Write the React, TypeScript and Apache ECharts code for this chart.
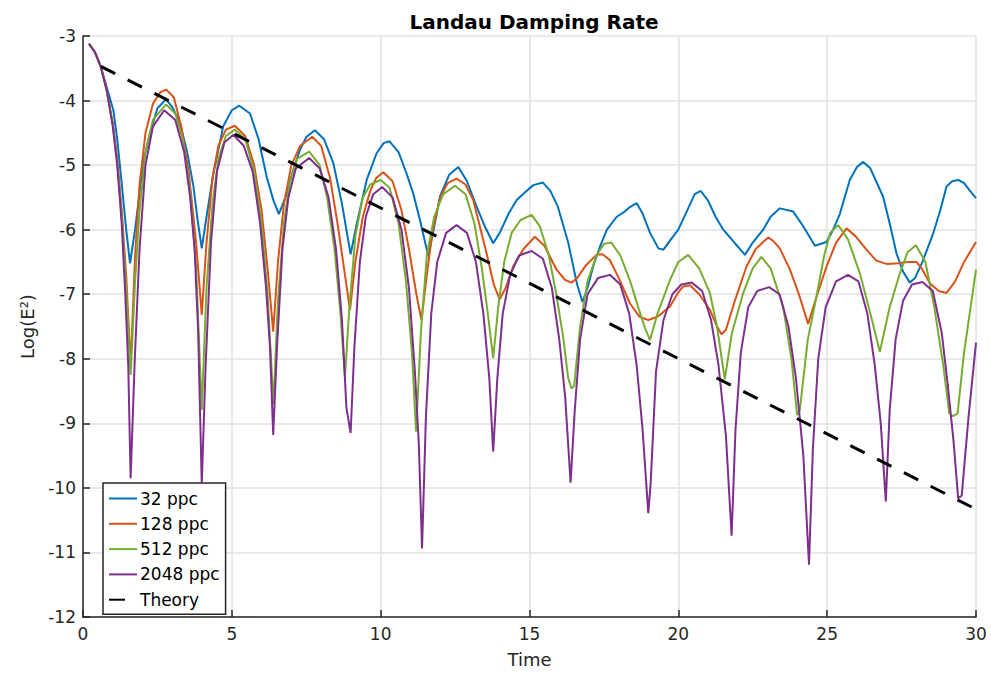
import React, { useEffect, useRef } from "react";
import * as echarts from "echarts";

const seriesNames = ["32 ppc", "128 ppc", "512 ppc", "2048 ppc", "Theory"];
const seriesColors = ["#0072BD", "#D95319", "#77AC30", "#7E2F8E", "#000000"];

const ppc32: number[][] = [
  [0.2, -3.12], [0.4, -3.25], [0.6, -3.48], [0.8, -3.8], [1.02, -4.15], [1.15, -4.6], [1.3, -5.28], [1.45, -6.0], [1.58, -6.52],
  [1.75, -6.0], [1.91, -5.39], [2.05, -4.9], [2.25, -4.51], [2.5, -4.12], [2.79, -3.98], [3.0, -4.1], [3.26, -4.35], [3.5, -4.8],
  [3.71, -5.33], [3.85, -5.85], [3.99, -6.29], [4.15, -5.8], [4.38, -5.13], [4.71, -4.4], [5.0, -4.15], [5.25, -4.08], [5.61, -4.2],
  [5.9, -4.6], [6.17, -5.18], [6.4, -5.55], [6.58, -5.76], [6.8, -5.5], [7.06, -5.08], [7.3, -4.75], [7.51, -4.56], [7.79, -4.46],
  [8.1, -4.6], [8.41, -4.97], [8.7, -5.6], [8.99, -6.38], [9.2, -5.9], [9.53, -5.23], [9.86, -4.82], [10.1, -4.66], [10.29, -4.63],
  [10.6, -4.8], [10.87, -5.13], [11.1, -5.45], [11.32, -5.85], [11.6, -6.41], [11.8, -5.95], [11.99, -5.49], [12.3, -5.15],
  [12.61, -5.03], [12.9, -5.25], [13.22, -5.64], [13.5, -5.95], [13.78, -6.21], [14.0, -6.05], [14.3, -5.75], [14.57, -5.54],
  [14.85, -5.42], [15.13, -5.31], [15.45, -5.27], [15.7, -5.4], [15.95, -5.64], [16.3, -6.2], [16.6, -6.85], [16.78, -7.12],
  [16.95, -6.9], [17.15, -6.55], [17.37, -6.26], [17.6, -6.0], [17.93, -5.8], [18.2, -5.72], [18.37, -5.65], [18.6, -5.59],
  [18.8, -5.75], [19.05, -6.05], [19.33, -6.29], [19.5, -6.31], [19.75, -6.15], [20.0, -6.0], [20.3, -5.7], [20.55, -5.45],
  [20.75, -5.4], [21.0, -5.55], [21.25, -5.8], [21.51, -6.0], [21.9, -6.21], [22.24, -6.39], [22.5, -6.2], [22.85, -6.0],
  [23.1, -5.8], [23.41, -5.67], [23.86, -5.72], [24.2, -5.95], [24.59, -6.25], [24.98, -6.19], [25.2, -6.0], [25.43, -5.75],
  [25.76, -5.23], [26.0, -5.03], [26.21, -4.95], [26.45, -5.05], [26.88, -5.49], [27.1, -5.9], [27.33, -6.37], [27.55, -6.65],
  [27.78, -6.82], [27.95, -6.75], [28.2, -6.5], [28.56, -6.06], [28.8, -5.7], [29.01, -5.33], [29.2, -5.25], [29.4, -5.23],
  [29.6, -5.28], [29.8, -5.4], [30.0, -5.51],
];

const ppc128: number[][] = [
  [0.2, -3.12], [0.4, -3.25], [0.6, -3.48], [0.8, -3.85], [1.0, -4.35], [1.15, -4.9], [1.3, -5.7], [1.45, -6.7], [1.6, -8.1],
  [1.75, -6.4], [1.9, -5.3], [2.1, -4.5], [2.35, -4.05], [2.6, -3.87], [2.79, -3.83], [3.05, -3.95], [3.3, -4.4], [3.55, -5.1],
  [3.8, -6.2], [3.99, -7.32], [4.15, -6.2], [4.35, -5.2], [4.55, -4.7], [4.8, -4.45], [5.1, -4.39], [5.45, -4.55], [5.75, -5.0],
  [6.0, -5.7], [6.2, -6.6], [6.39, -7.58], [6.55, -6.5], [6.75, -5.6], [7.0, -5.0], [7.3, -4.7], [7.7, -4.56], [8.0, -4.7],
  [8.3, -5.2], [8.55, -5.9], [8.8, -6.7], [8.97, -7.24], [9.15, -6.5], [9.4, -5.8], [9.65, -5.4], [9.85, -5.2], [10.09, -5.11],
  [10.4, -5.25], [10.7, -5.7], [10.95, -6.3], [11.2, -7.0], [11.37, -7.4], [11.55, -6.7], [11.75, -6.0], [12.0, -5.5],
  [12.25, -5.28], [12.55, -5.21], [12.85, -5.3], [13.11, -5.54], [13.56, -6.37], [13.8, -6.85], [14.0, -7.08], [14.2, -6.9],
  [14.45, -6.57], [14.8, -6.3], [15.18, -6.11], [15.5, -6.25], [15.91, -6.62], [16.2, -6.78], [16.41, -6.82], [16.6, -6.75],
  [16.9, -6.55], [17.25, -6.39], [17.45, -6.38], [17.7, -6.47], [18.0, -6.75], [18.37, -7.14], [18.7, -7.35], [18.99, -7.4],
  [19.3, -7.35], [19.72, -7.19], [20.0, -6.97], [20.16, -6.88], [20.39, -6.86], [20.7, -7.0], [21.06, -7.24], [21.3, -7.5],
  [21.45, -7.62], [21.6, -7.55], [21.9, -7.1], [22.29, -6.57], [22.6, -6.3], [22.85, -6.19], [23.02, -6.12], [23.2, -6.18],
  [23.41, -6.29], [23.75, -6.62], [24.05, -7.0], [24.36, -7.46], [24.6, -7.1], [24.98, -6.57], [25.3, -6.2], [25.65, -5.98],
  [25.95, -6.1], [26.32, -6.31], [26.65, -6.48], [26.99, -6.53], [27.4, -6.52], [27.7, -6.5], [28.0, -6.5], [28.2, -6.62],
  [28.45, -6.83], [28.75, -6.95], [29.01, -6.98], [29.3, -6.8], [29.6, -6.5], [30.0, -6.19],
];

const ppc512: number[][] = [
  [0.2, -3.12], [0.4, -3.25], [0.6, -3.48], [0.8, -3.85], [1.0, -4.38], [1.15, -4.95], [1.3, -5.8], [1.45, -6.9], [1.6, -8.25],
  [1.75, -6.8], [1.9, -5.7], [2.1, -4.8], [2.35, -4.3], [2.79, -4.06], [3.1, -4.2], [3.35, -4.6], [3.6, -5.4], [3.8, -6.6],
  [3.99, -8.79], [4.15, -6.9], [4.35, -5.6], [4.55, -4.9], [4.8, -4.55], [5.1, -4.45], [5.45, -4.6], [5.75, -5.1], [6.0, -5.9],
  [6.2, -7.0], [6.4, -8.7], [6.55, -7.1], [6.75, -5.9], [6.95, -5.25], [7.2, -4.9], [7.6, -4.79], [7.95, -5.0], [8.2, -5.5],
  [8.45, -6.3], [8.65, -7.3], [8.8, -8.28], [8.95, -7.2], [9.15, -6.1], [9.4, -5.5], [9.65, -5.3], [10.0, -5.23], [10.3, -5.35],
  [10.6, -5.9], [10.85, -6.8], [11.05, -7.9], [11.19, -9.13], [11.35, -7.6], [11.55, -6.4], [11.8, -5.8], [12.1, -5.45],
  [12.5, -5.32], [12.85, -5.45], [13.15, -5.9], [13.4, -6.6], [13.6, -7.3], [13.78, -7.99], [13.95, -7.2], [14.15, -6.5],
  [14.4, -6.05], [14.7, -5.85], [15.07, -5.77], [15.35, -5.95], [15.65, -6.4], [15.9, -7.0], [16.13, -7.66], [16.3, -8.3],
  [16.41, -8.46], [16.5, -8.42], [16.7, -7.5], [16.95, -6.8], [17.25, -6.4], [17.5, -6.22], [17.75, -6.2], [18.05, -6.4],
  [18.37, -6.78], [18.65, -7.2], [18.9, -7.55], [19.05, -7.71], [19.3, -7.3], [19.72, -6.78], [20.0, -6.5], [20.33, -6.39],
  [20.7, -6.6], [21.06, -6.98], [21.3, -7.5], [21.56, -8.32], [21.8, -7.6], [22.18, -6.98], [22.5, -6.6], [22.79, -6.42],
  [23.1, -6.6], [23.52, -7.19], [23.8, -8.0], [23.99, -8.87], [24.08, -8.8], [24.35, -7.7], [24.64, -7.04], [24.9, -6.4],
  [25.1, -6.05], [25.37, -5.93], [25.7, -6.15], [26.1, -6.68], [26.45, -7.3], [26.77, -7.89], [27.1, -7.2], [27.44, -6.68],
  [27.7, -6.35], [27.98, -6.24], [28.3, -6.5], [28.6, -7.2], [28.9, -8.1], [29.1, -8.84], [29.23, -8.89], [29.38, -8.85],
  [29.6, -7.9], [30.0, -6.62],
];

const ppc2048: number[][] = [
  [0.2, -3.12], [0.4, -3.25], [0.6, -3.48], [0.8, -3.85], [1.0, -4.4], [1.15, -5.0], [1.3, -5.9], [1.42, -7.0], [1.52, -8.1],
  [1.6, -9.85], [1.74, -8.0], [1.9, -6.3], [2.1, -5.0], [2.35, -4.4], [2.73, -4.15], [3.1, -4.3], [3.4, -4.8], [3.6, -5.5],
  [3.75, -6.3], [3.87, -7.6], [3.99, -9.94], [4.12, -8.1], [4.3, -6.2], [4.5, -5.1], [4.75, -4.65], [5.05, -4.53], [5.4, -4.7],
  [5.7, -5.1], [5.95, -5.9], [6.15, -6.9], [6.28, -7.8], [6.39, -9.18], [6.52, -7.8], [6.7, -6.3], [6.9, -5.5], [7.15, -5.05],
  [7.6, -4.89], [7.95, -5.05], [8.25, -5.5], [8.5, -6.3], [8.7, -7.4], [8.85, -8.76], [8.99, -9.15], [9.12, -7.8], [9.3, -6.5],
  [9.5, -5.8], [9.75, -5.45], [10.05, -5.34], [10.4, -5.5], [10.7, -6.0], [10.95, -6.9], [11.15, -8.2], [11.28, -9.3],
  [11.39, -10.94], [11.52, -8.9], [11.7, -7.3], [11.9, -6.5], [12.2, -6.05], [12.55, -5.93], [12.9, -6.05], [13.2, -6.5],
  [13.45, -7.3], [13.65, -8.3], [13.78, -9.44], [13.92, -8.3], [14.1, -7.3], [14.35, -6.7], [14.65, -6.4], [15.07, -6.33],
  [15.45, -6.45], [15.75, -6.9], [16.0, -7.7], [16.2, -8.6], [16.38, -9.92], [16.52, -8.8], [16.7, -7.7], [16.95, -7.0],
  [17.3, -6.75], [17.7, -6.7], [18.05, -6.85], [18.35, -7.3], [18.6, -8.1], [18.8, -9.1], [18.99, -10.39], [19.07, -9.93],
  [19.25, -8.2], [19.5, -7.4], [19.8, -7.0], [20.1, -6.85], [20.45, -6.82], [20.8, -6.95], [21.1, -7.4], [21.35, -8.1],
  [21.6, -9.2], [21.79, -10.74], [21.92, -9.1], [22.1, -7.9], [22.35, -7.2], [22.65, -6.95], [23.05, -6.89], [23.4, -7.0],
  [23.7, -7.5], [23.95, -8.3], [24.2, -9.5], [24.39, -11.19], [24.52, -9.4], [24.7, -8.0], [24.95, -7.2], [25.3, -6.8],
  [25.7, -6.7], [26.05, -6.8], [26.35, -7.3], [26.6, -8.1], [26.8, -9.0], [26.97, -10.21], [27.1, -8.8], [27.3, -7.7],
  [27.55, -7.1], [27.85, -6.85], [28.2, -6.81], [28.55, -6.95], [28.85, -7.6], [29.05, -8.4], [29.25, -9.3], [29.4, -10.16],
  [29.52, -10.12], [29.75, -8.9], [30.0, -7.75],
];

const theory: number[][] = [
  [0.6, -3.47], [30.0, -10.33],
];

const seriesData = [ppc32, ppc128, ppc512, ppc2048, theory];

export default function App() {
  const ref = useRef<HTMLDivElement>(null);
  useEffect(() => {
    if (!ref.current) return;
    const chart = echarts.init(ref.current, undefined, { renderer: "svg" });
    const font = "DejaVu Sans";
    chart.setOption({
      animation: false,
      backgroundColor: "#ffffff",
      title: {
        text: "Landau Damping Rate",
        left: 529,
        textAlign: "center",
        top: 7,
        textStyle: { fontFamily: font, fontSize: 20, fontWeight: "bold", color: "#000" },
      },
      grid: { left: 83, right: 15, top: 36, bottom: 56, containLabel: false },
      legend: {
        orient: "vertical",
        left: 103,
        top: 483,
        padding: [7, 6, 6, 5],
        itemWidth: 28,
        itemHeight: 14,
        itemGap: 8.3,
        backgroundColor: "#ffffff",
        borderColor: "#262626",
        borderWidth: 1.5,
        borderRadius: 0,
        itemStyle: { opacity: 0, borderWidth: 0 },
        textStyle: { fontFamily: font, fontSize: 17, color: "#000", padding: [0, 0, 0, -2] },
        data: seriesNames,
      },
      xAxis: {
        type: "value",
        min: 0,
        max: 30,
        interval: 5,
        name: "Time",
        nameLocation: "middle",
        nameGap: 33,
        nameTextStyle: { fontFamily: font, fontSize: 18, color: "#262626" },
        axisLine: { show: true, lineStyle: { color: "#262626", width: 1.5 } },
        axisTick: { show: true, inside: true, length: 7, lineStyle: { color: "#262626", width: 1.5 } },
        axisLabel: { fontFamily: font, fontSize: 17, color: "#262626", margin: 8 },
        splitLine: { show: true, lineStyle: { color: "#e2e2e2", width: 1.5 } },
      },
      yAxis: {
        type: "value",
        min: -12,
        max: -3,
        interval: 1,
        name: "Log(E²)",
        nameLocation: "middle",
        nameRotate: 90,
        nameGap: 47,
        nameTextStyle: { fontFamily: font, fontSize: 18, color: "#262626" },
        axisLine: { show: true, lineStyle: { color: "#262626", width: 1.5 } },
        axisTick: { show: true, inside: true, length: 7, lineStyle: { color: "#262626", width: 1.5 } },
        axisLabel: { fontFamily: font, fontSize: 17, color: "#262626", margin: 7 },
        splitLine: { show: true, lineStyle: { color: "#e2e2e2", width: 1.5 } },
      },
      series: seriesNames.map((name, i) => ({
        name,
        type: "line",
        data: seriesData[i],
        symbol: "none",
        showSymbol: false,
        smooth: false,
        z: 2 + i,
        color: seriesColors[i],
        lineStyle: i === 4
          ? { color: seriesColors[i], width: 3, type: [16, 14] }
          : { color: seriesColors[i], width: 2 },
      })),
    });
    return () => chart.dispose();
  }, []);
  return (
    <div
      ref={ref}
      style={{ position: "fixed", left: 0, top: 0, width: 991, height: 673, background: "#fff" }}
    />
  );
}
